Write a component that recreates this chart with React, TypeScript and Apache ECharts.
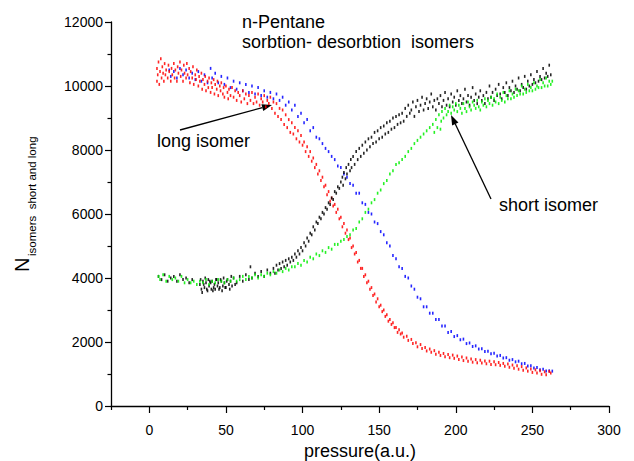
import React, { useEffect, useRef } from 'react';
import * as echarts from 'echarts';

// long isomer (red)
const redLong: number[][] = [
  [5,10150],[5,10550],[5.5,10350],[6,10750],[6.5,10050],[7,10450],[7.5,10850],[8,10250],[8.5,10600],[9,10400],
  [9.5,10150],[10,10700],[10.5,10350],[11,10500],[12,10250],[12.5,10650],[13,10450],[14,10150],[14.5,10550],[15,10350],
  [16,10700],[16.5,10250],[17,10500],[18,10150],[18.5,10600],[19,10400],[20,10750],[20.5,10300],[21,10500],[22,10150],
  [22.5,10650],[23,10400],[24,10250],[24.5,10700],[25,10350],[26,10550],[26.5,10100],[27,10450],[28,10250],[28.5,10600],
  [29,10050],[30,10350],[30.5,10200],[31,10500],[32,10000],[32.5,10300],[33,10150],[34,10400],[34.5,9900],[35,10200],
  [36,10050],[36.5,10300],[37,9850],[38,10150],[38.5,9950],[39,10250],[40,9800],[40.5,10100],[41,9950],[42,10200],
  [42.5,9750],[43,10050],[44,9900],[44.5,10150],[45,9700],[46,10000],[46.5,9850],[47,10100],[48,9750],[48.5,9950],
  [49,9650],[50,10000],[51,9800],[51.5,9600],[52,9900],[53,9700],[54,9950],[55,9650],[56,9850],[57,9550],
  [58,9800],[59,9700],[60,9500],[61,9850],[62,9600],[63,9750],[64,9450],[65,9700],[66,9550],[67,9800],
  [68,9450],[69,9650],[70,9500],[71,9750],[72,9400],[73,9600],[74,9500],[75,9700],[76,9350],[77,9550],
  [78,9450],[79,9650],[80,9300],[81,9500],[82,9150],[83,9450],[84,9050],[85,9300],[86,8950],[87,9250],
  [88,8800],[89,9100],[90,8700],[91,8950],[92,8550],[93,8850],[94,8500],[95,8700],[96,8350],[97,8600],
  [98,8250],[99,8450],[100,8150],[101,8250],[102,7950],[103,8100],[104,7800],[105,7950],[106,7650],[107,7750],
  [108,7450],[109,7550],[110,7250],[111,7350],[112,7050],[113,7150],[114,6850],[115,6900],[116,6600],[117,6700],
  [118,6400],[119,6500],[120,6250],[121,6300],[122,6050],[123,6150],[124,5850],[125,5900],[126,5600],[127,5700],
  [128,5400],[129,5500],[130,5200],[131,5250],[132,4950],[133,5000],[134,4750],[135,4800],[136,4500],[137,4550],
  [138,4300],[139,4300],[140,4050],[141,4100],[142,3850],[143,3900],[144,3650],[145,3700],[146,3450],[147,3500],
  [148,3250],[149,3350],[150,3100],[151,3150],[152,2950],[153,3000],[154,2800],[155,2850],[156,2650],[157,2700],
  [158,2550],[159,2600],[160,2450],[161,2450],[162,2300],[163,2380],[164,2250],[165,2280],[166,2150],[168,2180],
  [169,2050],[171,2080],[172,1950],[174,1980],[175,1850],[177,1920],[178,1800],[180,1830],[181,1720],[183,1780],
  [184,1680],[186,1730],[187,1620],[189,1680],[190,1580],[192,1640],[193,1540],[195,1610],[196,1510],[198,1590],
  [199,1490],[201,1560],[202,1450],[204,1530],[205,1420],[207,1500],[208,1400],[210,1470],[211,1370],[213,1450],
  [214,1350],[216,1430],[217,1340],[219,1410],[220,1320],[222,1400],[223,1300],[225,1380],[226,1290],[228,1360],
  [229,1270],[231,1330],[232,1240],[234,1310],[235,1210],[237,1280],[238,1180],[240,1260],[241,1150],[243,1230],
  [244,1120],[246,1190],[247,1090],[249,1160],[250,1050],[252,1130],[253,1030],[255,1100],[256,990],[258,1070],
  [259,980],[261,1080],[262,1030]
];

// long isomer (blue)
const blueLong: number[][] = [
  [13,10500],[14,10300],[16,10450],[18,10250],[20,10550],[22,10350],[24,10500],[26,10250],[28,10400],[30,10200],
  [32,10450],[34,10150],[36,10350],[38,10100],[40,10550],[41,10250],[43,10400],[45,10100],[47,10300],[49,10050],
  [51,10250],[53,9950],[55,10150],[57,9900],[59,10100],[61,9850],[63,10050],[65,9800],[67,10000],[69,9750],
  [71,9950],[73,9700],[75,9850],[77,9650],[79,9800],[81,9600],[83,9750],[85,9550],[87,9650],[89,9400],
  [91,9500],[93,9250],[95,9400],[97,9050],[99,9150],[101,8850],[103,8950],[105,8600],[107,8700],[109,8400],
  [111,8350],[113,8200],[115,8050],[117,7950],[119,7800],[121,7700],[123,7500],[125,7450],[127,7250],[129,7150],
  [131,6950],[133,6900],[135,6650],[137,6650],[139,6350],[141,6300],[143,6050],[145,6000],[147,5750],[149,5700],
  [151,5450],[153,5350],[155,5100],[157,5000],[159,4700],[161,4600],[163,4350],[165,4300],[167,4050],[169,4000],
  [171,3750],[173,3650],[175,3400],[177,3350],[179,3100],[181,3100],[183,2900],[185,2900],[187,2700],[189,2700],
  [191,2500],[193,2500],[195,2300],[197,2330],[199,2170],[201,2200],[203,2070],[205,2090],[207,1950],[209,1970],
  [211,1860],[213,1880],[215,1780],[217,1790],[219,1700],[221,1710],[223,1630],[225,1650],[227,1560],[229,1580],
  [231,1500],[233,1510],[235,1430],[237,1450],[239,1380],[241,1400],[243,1320],[245,1330],[247,1250],[249,1260],
  [251,1190],[253,1200],[255,1130],[257,1150],[259,1090],[261,1100],[263,1090]
];

// short isomer (black)
const blackShort: number[][] = [
  [6,4050],[8,3950],[10,4100],[12,3900],[14,4000],[16,4050],[18,3900],[20,4100],[22,3950],[24,4000],
  [26,3850],[28,3950],[33,3800],[33.5,3950],[34,3650],[34.5,3550],[35,3900],[35.5,3800],[36,3700],[36.5,4000],
  [37,3850],[37.5,3650],[38,3600],[38.5,3950],[39,3750],[39.5,3900],[40,3850],[40.5,3650],[41,3900],[41.5,3600],
  [42,3700],[42.5,3800],[43,3650],[43.5,3950],[44,3950],[44.5,3750],[45,3850],[45.5,3650],[46,3700],[46.5,3950],
  [47,3900],[47.5,3600],[48,3750],[48.5,4000],[49,3850],[49.5,3700],[50,3700],[50.5,3900],[51,3950],[52,3800],
  [52.5,3650],[53,3900],[53.5,4050],[54,3750],[55,4000],[56,3800],[57,3850],[59,4050],[61,3900],[63,4100],
  [65,3950],[66,4350],[67,4000],[69,4150],[71,4050],[73,4200],[75,4050],[77,4250],[79,4150],[81,4300],
  [82,4150],[83,4400],[84,4250],[85,4450],[86,4300],[87,4500],[88,4350],[89,4550],[90,4400],[91,4600],
  [92,4500],[93,4650],[94,4550],[95,4750],[96,4650],[97,4850],[98,4750],[99,4950],[100,4850],[101,5100],
  [102,5000],[103,5250],[104,5150],[105,5400],[106,5350],[107,5600],[108,5500],[109,5750],[110,5700],[111,5900],
  [112,5850],[113,6050],[114,6000],[115,6200],[116,6150],[117,6350],[118,6300],[119,6500],[120,6450],[121,6700],
  [122,6650],[123,6850],[124,6800],[125,7000],[126,7150],[126.5,6900],[127,7300],[128,7100],[128.5,7450],[129,7250],
  [130,7550],[131,7350],[131.5,7700],[132,7450],[133,7800],[134,7550],[135,7950],[136,7700],[137,8050],[138,7800],
  [139,8150],[140,7900],[141,8250],[142,8000],[143,8350],[144,8100],[145,8400],[146,8200],[147,8550],[148,8250],
  [149,8600],[150,8350],[151,8700],[152,8400],[153,8750],[154,8500],[155,8850],[156,8550],[157,8900],[158,8650],
  [159,9000],[160,8700],[161,9050],[162,8800],[163,9100],[164,8850],[165,9150],[166,8900],[167,9300],[168,9050],
  [169,9400],[170,9150],[171,9250],[172,9500],[173,9050],[174,9350],[175,9550],[176,9200],[177,9400],[178,9650],
  [179,9250],[180,9450],[181,9600],[182,9300],[183,9500],[184,9750],[185,9350],[186,9550],[187,9250],[188,9600],
  [189,9450],[190,9700],[191,9350],[192,9550],[193,9800],[194,9400],[195,9600],[196,9350],[197,9750],[198,9500],
  [199,9650],[200,9400],[201,9850],[202,9550],[203,9700],[204,9450],[205,9600],[206,9900],[207,9500],[208,9700],
  [209,9400],[210,9650],[211,9950],[212,9550],[213,9750],[214,9450],[215,9650],[216,9850],[217,9550],[218,9700],
  [219,9450],[220,9800],[221,9600],[222,10000],[223,9650],[224,9800],[225,9550],[226,9900],[227,9700],[228,10050],
  [229,9750],[230,9600],[231,9950],[232,9800],[233,10100],[234,9700],[235,9950],[236,9850],[237,10150],[238,9800],
  [239,10000],[240,9900],[241,10250],[242,9850],[243,10050],[244,9950],[245,10300],[246,9900],[247,10150],[248,10000],
  [249,10350],[250,10050],[251,10200],[252,10100],[253,10450],[254,10150],[255,10300],[256,10200],[257,10550],[258,10250],
  [259,10400],[260,10300],[261,10650],[262,10350]
];

// short isomer (green)
const greenShort: number[][] = [
  [6,4050],[7,3950],[9,4100],[11,3900],[13,4050],[15,3950],[17,4000],[19,3900],[21,4050],[23,3850],
  [25,3950],[27,3850],[29,3900],[31,3800],[33,3900],[35,3850],[37,3950],[39,3800],[41,3900],[43,3850],
  [45,3950],[47,3900],[49,3850],[51,3950],[53,3900],[55,4000],[57,3900],[59,3950],[61,4050],[63,3950],
  [65,4050],[67,4000],[69,4100],[71,4000],[73,4100],[75,4050],[77,4150],[79,4100],[81,4200],[83,4150],
  [85,4250],[87,4200],[89,4300],[91,4250],[93,4350],[95,4350],[97,4450],[99,4400],[101,4550],[103,4500],
  [105,4650],[107,4600],[109,4750],[111,4700],[113,4850],[115,4800],[117,4950],[119,4900],[121,5050],[123,5050],
  [125,5150],[127,5200],[129,5300],[131,5350],[133,5500],[135,5550],[137,5750],[139,5850],[141,6050],[143,6150],
  [145,6350],[147,6450],[149,6650],[151,6750],[153,6950],[155,7050],[157,7250],[159,7350],[161,7550],[163,7600],
  [165,7700],[167,7800],[169,7950],[171,8050],[173,8200],[175,8300],[177,8400],[179,8500],[181,8600],[183,8700],
  [185,8800],[186,8550],[187,8950],[188,8700],[189,9100],[190,8650],[190.5,8900],[191,9200],[192,9000],[193,9300],
  [194,9100],[195,9200],[196,9400],[197,9150],[198,9350],[199,9250],[200,9450],[201,9200],[202,9400],[203,9300],
  [204,9150],[205,9450],[206,9300],[207,9200],[208,9500],[209,9350],[210,9250],[211,9500],[212,9400],[213,9300],
  [214,9550],[215,9350],[216,9250],[217,9500],[218,9400],[219,9600],[220,9350],[221,9550],[222,9450],[223,9650],
  [224,9400],[225,9600],[226,9500],[227,9750],[228,9450],[229,9650],[230,9550],[231,9800],[232,9500],[233,9700],
  [234,9600],[235,9850],[236,9600],[237,9750],[238,9650],[239,9900],[240,9700],[241,9850],[242,9750],[243,10000],
  [244,9750],[245,9900],[246,9800],[247,10050],[248,9850],[249,9950],[250,9850],[251,10100],[252,9900],[253,10000],
  [254,9950],[255,10200],[256,9950],[257,10100],[258,10000],[259,10250],[260,10000],[261,10150],[262,10050],[263,10150]
];

const xLabelValues = [0, 50, 100, 150, 200, 250, 300];
const xMinorValues = [-25, 25, 75, 125, 175, 225, 275];

const FONT = '"Liberation Sans", Arial, Helvetica, sans-serif';

function arrow(x1: number, y1: number, x2: number, y2: number) {
  const dx = x2 - x1, dy = y2 - y1;
  const L = Math.hypot(dx, dy);
  const ux = dx / L, uy = dy / L;
  const len = 10, w = 3.5;
  const bx = x2 - ux * len, by = y2 - uy * len;
  const px = -uy, py = ux;
  return [
    { type: 'line', shape: { x1, y1, x2: bx, y2: by }, style: { stroke: '#000', lineWidth: 1.3 } },
    {
      type: 'polygon',
      shape: { points: [[x2, y2], [bx + px * w, by + py * w], [bx - px * w, by - py * w]] },
      style: { fill: '#000' },
    },
  ];
}

export default function App() {
  const ref = useRef<HTMLDivElement>(null);
  useEffect(() => {
    const chart = echarts.init(ref.current!, null, { renderer: 'svg' });
    const scatter = (data: number[][], color: string) => ({
      type: 'scatter',
      data,
      symbol: 'rect',
      symbolSize: [1.6, 3],
      itemStyle: { color, opacity: 0.85 },
      silent: true,
    });
    const txt = (text: string, x: number, y: number, size: number, extra: any = {}) => ({
      type: 'text',
      x,
      y,
      ...extra,
      style: {
        text,
        fontSize: size,
        fontFamily: FONT,
        fill: '#000',
        textAlign: 'left',
        textVerticalAlign: 'middle',
        align: 'left',
        verticalAlign: 'middle',
      },
    });
    chart.setOption({
      animation: false,
      backgroundColor: '#fff',
      grid: { left: 111, right: 25, top: 22, bottom: 55, containLabel: false, outerBoundsMode: 'none' },
      xAxis: [
        {
          type: 'value',
          min: -25,
          max: 300,
          interval: 25,
          axisLine: { show: true, onZero: false, lineStyle: { color: '#000', width: 1.3 } },
          axisTick: { show: true, length: 7, customValues: xLabelValues, lineStyle: { color: '#000', width: 1.2 } },
          axisLabel: {
            customValues: xLabelValues,
            formatter: (v: number) => (v % 50 === 0 ? String(v) : ''),
            color: '#000',
            fontSize: 14,
            fontFamily: FONT,
            margin: 17,
          },
          splitLine: { show: false },
          name: 'pressure(a.u.)',
          nameLocation: 'middle',
          nameGap: 29,
          nameTextStyle: { color: '#000', fontSize: 18, fontFamily: FONT, verticalAlign: 'top' },
        },
        {
          type: 'value',
          min: -25,
          max: 300,
          interval: 25,
          position: 'bottom',
          axisLine: { show: false, onZero: false },
          axisTick: { show: true, length: 4, customValues: xMinorValues, lineStyle: { color: '#000', width: 1.2 } },
          axisLabel: { show: false },
          splitLine: { show: false },
        },
      ],
      yAxis: {
        type: 'value',
        min: 0,
        max: 12000,
        interval: 2000,
        axisLine: { show: true, onZero: false, lineStyle: { color: '#000', width: 1.3 } },
        axisTick: { show: true, length: 6, lineStyle: { color: '#000', width: 1.2 } },
        minorTick: { show: true, splitNumber: 2, length: 3.5, lineStyle: { color: '#000', width: 1.2 } },
        axisLabel: { color: '#000', fontSize: 14, fontFamily: FONT, margin: 8, formatter: (v: number) => String(v) },
        splitLine: { show: false },
        minorSplitLine: { show: false },
      },
      series: [
        scatter(blueLong, '#0000ff'),
        scatter(redLong, '#ff0000'),
        scatter(blackShort, '#000000'),
        scatter(greenShort, '#00ee00'),
      ],
      graphic: [
        txt('n-Pentane', 242, 21.5, 18),
        txt('sorbtion- desorbtion  isomers', 242, 41.5, 18),
        txt('long isomer', 157, 140.5, 18),
        txt('short isomer', 499, 204.5, 18),
        ...arrow(180, 130, 272, 105),
        ...arrow(491, 199, 451, 115),
        txt('N', 22, 272, 20, { rotation: Math.PI / 2 }),
        txt('isomers  short and long', 32, 256, 11.5, { rotation: Math.PI / 2 }),
      ],
    });
    return () => chart.dispose();
  }, []);
  return <div ref={ref} style={{ position: 'fixed', left: 0, top: 0, width: 634, height: 461 }} />;
}
